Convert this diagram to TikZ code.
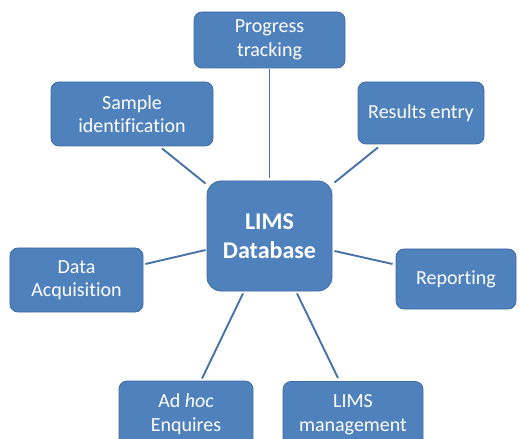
\documentclass[tikz,border=0pt]{standalone}
\usepackage{fontspec}
\setmainfont[Ligatures=CommonOff]{Carlito}
\usetikzlibrary{calc}
\definecolor{boxfill}{HTML}{4F81BD}
\definecolor{boxline}{HTML}{3F6DA3}
\definecolor{conn}{HTML}{4672A8}
\tikzset{
  box/.style={draw=boxline, line width=0.8bp, fill=boxfill, rounded corners=8bp,
    text=white, align=center, inner sep=0pt,
    font=\fontsize{20bp}{23.5bp}\selectfont},
  hub/.style={box, rounded corners=14bp, font=\fontsize{24bp}{28.5bp}\selectfont\bfseries},
  link/.style={draw=conn, line width=1.9bp}
}
\begin{document}
\begin{tikzpicture}[x=1bp,y=-1bp]
\useasboundingbox (0,0) rectangle (520,439);
\begin{scope}
\clip (0,0) rectangle (520,439);
\node[hub, minimum width=125bp, minimum height=110bp] (db) at (269.5,236) {LIMS\\Database};
\node[box, minimum width=151bp, minimum height=56bp] (prog) at (269.5,40) {Progress\\tracking};
\node[box, minimum width=162bp, minimum height=64bp] (sample) at (132,114) {Sample\\identification};
\node[box, minimum width=126bp, minimum height=62bp] (results) at (421,113) {Results entry};
\node[box, minimum width=133bp, minimum height=64bp] (data) at (76.5,280) {Data\\Acquisition};
\node[box, minimum width=120bp, minimum height=60bp] (report) at (456,279) {Reporting};
\node[box, minimum width=134bp, minimum height=66bp] (adhoc) at (186,414) {Ad \textit{hoc}\\Enquires};
\node[box, minimum width=140bp, minimum height=66bp] (mgmt) at (353,414.5) {LIMS\\management};
\end{scope}
\draw[link] ($(prog.south)+(0,1)$) -- ($(db.north)+(0,-3)$);
\draw[link] ($(sample.south)+(30,2)$) -- ($(db.north west)+(-1,3)$);
\draw[link] ($(results.south)+(-43,3)$) -- ($(db.north east)+(2,2)$);
\draw[link] ($(data.east)+(2,-16)$) -- ($(db.west)+(-1,14)$);
\draw[link] ($(db.east)+(2,15)$) -- ($(report.west)+(-3,-15)$);
\draw[link] ($(db.south)+(-26.5,2)$) -- ($(adhoc.north)+(16,-2)$);
\draw[link] ($(db.south)+(27.5,2)$) -- ($(mgmt.north)+(-15,-3)$);
\end{tikzpicture}
\end{document}
